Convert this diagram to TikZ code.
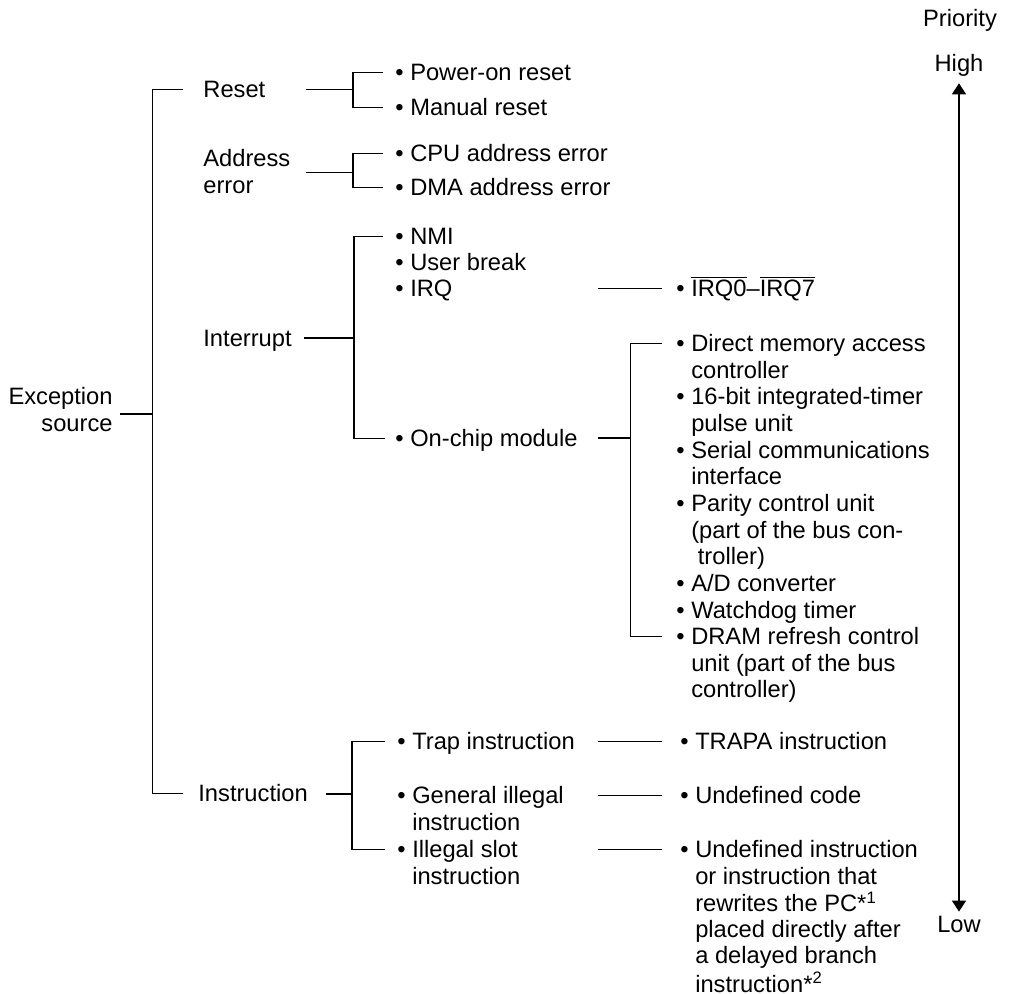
\documentclass[tikz,border=0pt]{standalone}
\usepackage{fontspec}
\setmainfont{Liberation Sans}
\usetikzlibrary{arrows.meta}
\tikzstyle{txt} = [inner sep=0pt, anchor=base west, font=\fontsize{11.85}{13.2}\selectfont, text height=8.48pt, text depth=0pt]
\tikzstyle{wire} = [line width=0.7pt]
\tikzstyle{prioarrow} = [line width=0.7pt, {Triangle[length=5.5pt,width=7pt]}-{Triangle[length=5.5pt,width=7pt]}]
\newcommand{\ind}{\hphantom{•\ }}
\newcommand{\lines}[1]{\begin{tabular}[t]{@{}l@{}}#1\end{tabular}}
\newcommand{\rlines}[1]{\begin{tabular}[t]{@{}r@{}}#1\end{tabular}}

\begin{document}
\begin{tikzpicture}[x=0.5pt,y=-0.5pt]
\useasboundingbox (0,0) rectangle (1009,994);

% priority scale
\node (prio) [txt,anchor=base] at (960,26.7) {Priority};
\node (high) [txt,anchor=base] at (959,71.7) {High};
\node (low) [txt,anchor=base] at (959,932.7) {Low};
\draw [prioarrow,shorten <=5.6pt,shorten >=1.85pt] (high.south) -- (low.north);

% sources
\node (exc) [txt,anchor=base east] at (113,405) {\rlines{Exception\\source}};
\node (reset) [txt] at (203,98) {Reset};
\node (addr) [txt] at (203,166.7) {\lines{Address\\error}};
\node (intr) [txt] at (203,346.7) {Interrupt};
\node (instr) [txt] at (198,801.7) {Instruction};

\node (pwr) [txt] at (395,81) {• Power-on reset};
\node (man) [txt] at (395,115.7) {• Manual reset};
\node (cpu) [txt] at (395,161.7) {• CPU address error};
\node (dma) [txt] at (395,196) {• DMA address error};
\node (nmi) [txt] at (395,245) {• NMI};
\node (ubrk) [txt] at (395,271) {• User break};
\node (irq) [txt] at (395,297) {• IRQ};
\node (onchip) [txt] at (395,446.7) {• On-chip module};
\node (trap) [txt] at (397,750) {• Trap instruction};
\node (gill) [txt] at (397,804) {\lines{• General illegal\\\ind instruction}};
\node (sill) [txt] at (397,858) {\lines{• Illegal slot\\\ind instruction}};

\node (irqs) [txt] at (676,297) {• $\overline{\hbox{IRQ0}}$–$\overline{\hbox{IRQ7}}$};
\node (dmac) [txt] at (676,351.7) {\lines{• Direct memory access\\\ind controller}};
\node (itu) [txt] at (676,405) {\lines{• 16-bit integrated-timer\\\ind pulse unit}};
\node (sci) [txt] at (676,458.3) {\lines{• Serial communications\\\ind interface}};
\node (pcu) [txt] at (676,511.7) {\lines{• Parity control unit\\\ind (part of the bus con-\\\ind\ troller)}};
\node (adc) [txt] at (676,591.7) {• A/D converter};
\node (wdt) [txt] at (676,618.3) {• Watchdog timer};
\node (dram) [txt] at (676,645) {\lines{• DRAM refresh control\\\ind unit (part of the bus\\\ind controller)}};
\node (trapa) [txt] at (680,750) {• TRAPA instruction};
\node (undef) [txt] at (680,804) {• Undefined code};
\node (undins) [txt] at (680,858) {\def\arraystretch{0.985}\lines{• Undefined instruction\\\ind or instruction that\\\ind rewrites the PC*\textsuperscript{1}\\\ind placed directly after\\\ind a delayed branch\\\ind instruction*\textsuperscript{2}}};

% junctions
\coordinate (root) at (152.5,414);
\coordinate (rj) at (353,89.5);
\coordinate (aj) at (353,172.5);
\coordinate (ij) at (354,338.2);
\coordinate (oj) at (630.5,438.2);
\coordinate (nj) at (352,794);
\coordinate (col) at (598,0);

\draw [wire] ([xshift=-10pt]reset.west) -| (root) |- ([xshift=-7.5pt]instr.west);
\draw [wire,shorten >=3.5pt] (root) -- (exc.east |- root);

\draw [wire] ([xshift=-6pt]pwr.west) -| (rj) |- ([xshift=-6pt]man.west);
\draw [wire,shorten >=20pt] (rj) -- (reset.east |- rj);

\draw [wire] ([xshift=-6pt]cpu.west) -| (aj) |- ([xshift=-6pt]dma.west);
\draw [wire,shorten >=7.5pt] (aj) -- (addr.east |- aj);

\draw [wire] ([xshift=-6pt]nmi.west) -| (ij) |- ([xshift=-5pt]onchip.west);
\draw [wire,shorten >=6pt] (ij) -- (intr.east |- ij);

\draw [wire] (col |- irq.west) -- ([xshift=-7pt]irqs.west);
\draw [wire] ([xshift=-7pt]dmac.west) -| (oj) |- ([xshift=-7pt]dram.west);
\draw [wire] (col |- oj) -- (oj);

\draw [wire] ([xshift=-6pt]trap.west) -| (nj) |- ([xshift=-6pt]sill.west);
\draw [wire,shorten >=9pt] (nj) -- (instr.east |- nj);

\draw [wire] (col |- trap.west) -- ([xshift=-9pt]trapa.west);
\draw [wire] (col |- gill.west) -- ([xshift=-9pt]undef.west);
\draw [wire] (col |- sill.west) -- ([xshift=-9pt]undins.west);

\end{tikzpicture}
\end{document}
